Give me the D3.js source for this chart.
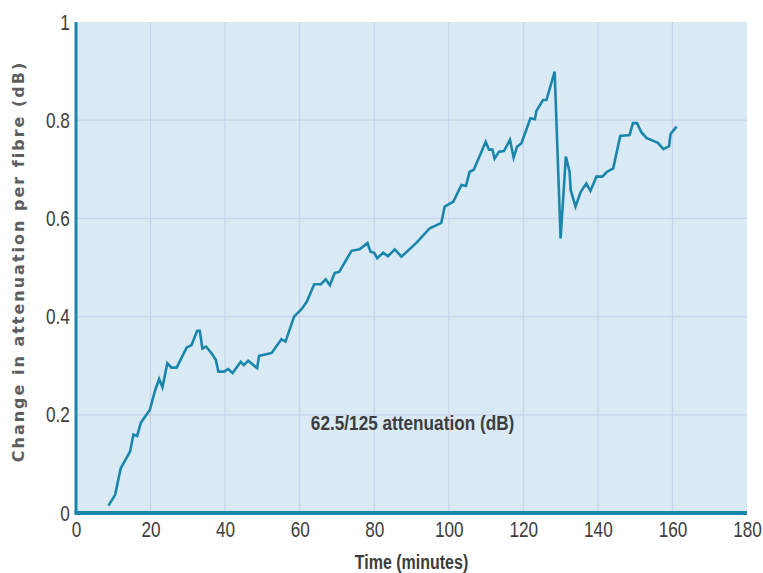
<!DOCTYPE html>
<html>
<head>
<meta charset="utf-8">
<script src="https://cdn.jsdelivr.net/npm/d3@7"></script>
<style>
  body { margin: 0; background: #fff; }
  .tick text { font-family: "Liberation Sans", "Roboto", sans-serif; }
</style>
</head>
<body>
<div id="chart"></div>
<script>
// Data: time in minutes, change in attenuation (dB)
const times = [8.7, 10.5, 12, 14.5, 15.4, 16.4, 17.4, 19.8, 21.2, 22.3, 23.2, 24.5, 25.6, 27, 29.7, 31, 32.5, 33.2, 33.9, 34.9,
  36.4, 37.5, 38.2, 39.7, 40.8, 42, 44.2, 45, 46.2, 48.6, 49.1, 52.5, 55.1, 56.2, 58.5, 60.5, 61.9, 63.9, 65.7, 67,
  68.1, 69.4, 70.6, 73.9, 76.1, 78.2, 79, 80, 80.8, 82.4, 83.7, 85.5, 87.3, 91.3, 94.9, 98, 98.9, 101.2, 103.4, 104.6,
  105.6, 106.7, 109.9, 110.8, 111.7, 112.3, 113.5, 114.8, 116.4, 117.4, 118.3, 119.5, 121.9, 123.1, 123.5, 125.3, 126.2, 128.4, 130, 131.4,
  132.4, 132.7, 134, 135.4, 136.9, 138, 139.6, 141.2, 142.3, 144.1, 146, 148.5, 149.4, 150.5, 151.7, 153, 156.1, 157.6, 159.1, 159.5, 161.1];
const attenuation = [0.015, 0.037, 0.091, 0.125, 0.160, 0.157, 0.184, 0.21, 0.249, 0.273, 0.256, 0.305, 0.296, 0.296, 0.337, 0.342, 0.371, 0.371, 0.335, 0.339,
  0.325, 0.312, 0.288, 0.288, 0.293, 0.285, 0.308, 0.301, 0.31, 0.295, 0.32, 0.326, 0.354, 0.349, 0.40, 0.415, 0.43, 0.466, 0.466, 0.476,
  0.464, 0.489, 0.491, 0.534, 0.537, 0.55, 0.532, 0.53, 0.519, 0.53, 0.523, 0.537, 0.522, 0.55, 0.58, 0.591, 0.624, 0.634, 0.668, 0.666,
  0.695, 0.699, 0.756, 0.74, 0.74, 0.722, 0.736, 0.737, 0.76, 0.724, 0.746, 0.753, 0.804, 0.802, 0.819, 0.841, 0.841, 0.899, 0.559, 0.726,
  0.695, 0.658, 0.624, 0.654, 0.671, 0.656, 0.685, 0.685, 0.694, 0.702, 0.768, 0.77, 0.794, 0.794, 0.775, 0.764, 0.754, 0.741, 0.747, 0.772, 0.787];
const xTicks = [0, 20, 40, 60, 80, 100, 120, 140, 160, 180];
const yTicks = [0, 0.2, 0.4, 0.6, 0.8, 1];
const seriesLabel = "62.5/125 attenuation (dB)";

const data = times.map((t, i) => ({ t: t, v: attenuation[i] }));

const margin = {top: 22, right: 16, bottom: 60, left: 76},
      width = 763 - margin.left - margin.right,
      height = 573 - margin.top - margin.bottom;

const svg = d3.select("#chart")
              .append("svg")
              .attr("width", 763)
              .attr("height", 573)
              .append("g")
              .attr("transform", `translate(${margin.left},${margin.top})`);

const x = d3.scaleLinear().domain([0, 180]).range([0, width]);
const y = d3.scaleLinear().domain([0, 1]).range([height, 0]);

const blue = "#1a86ab";
const textGrey = "#3d3d3d";

// plot background
svg.append("rect")
   .attr("width", width)
   .attr("height", height)
   .attr("fill", "#d9eaf5");

// grid lines
svg.append("g")
   .selectAll("line")
   .data(xTicks.slice(1, -1))
   .enter()
   .append("line")
   .attr("x1", d => x(d)).attr("x2", d => x(d))
   .attr("y1", 0).attr("y2", height)
   .attr("stroke", "#c9d2ea")
   .attr("stroke-width", 1.2);

svg.append("g")
   .selectAll("line")
   .data(yTicks.slice(1, -1))
   .enter()
   .append("line")
   .attr("y1", d => y(d)).attr("y2", d => y(d))
   .attr("x1", 0).attr("x2", width)
   .attr("stroke", "#c9d2ea")
   .attr("stroke-width", 1.2);

// X axis (condensed look via horizontal squeeze)
const xAxis = svg.append("g")
   .attr("transform", `translate(0,${height})`)
   .call(d3.axisBottom(x).tickValues(xTicks).tickSize(0).tickPadding(8).tickFormat(d3.format("d")));
xAxis.select(".domain").remove();
xAxis.selectAll("text")
   .attr("font-size", "22px")
   .attr("fill", textGrey)
   .attr("dy", "0.71em")
   .attr("transform", "scale(0.78,1)");

// Y axis
const yAxis = svg.append("g")
   .call(d3.axisLeft(y).tickValues(yTicks).tickSize(0).tickPadding(8).tickFormat(d => d === 0 || d === 1 ? d3.format("d")(d) : d3.format(".1f")(d)));
yAxis.select(".domain").remove();
yAxis.selectAll("text")
   .attr("font-size", "22px")
   .attr("fill", textGrey)
   .attr("transform", "scale(0.78,1)");

// axis lines
svg.append("line")
   .attr("x1", 0).attr("x2", 0)
   .attr("y1", 0).attr("y2", height)
   .attr("stroke", blue)
   .attr("stroke-width", 3);

svg.append("line")
   .attr("x1", -1.5).attr("x2", width)
   .attr("y1", height).attr("y2", height)
   .attr("stroke", blue)
   .attr("stroke-width", 4);

// the series line
const line = d3.line()
   .x(d => x(d.t))
   .y(d => y(d.v));

svg.append("path")
   .datum(data)
   .attr("fill", "none")
   .attr("stroke", blue)
   .attr("stroke-width", 2.6)
   .attr("d", line);

// series annotation
svg.append("text")
   .attr("transform", `translate(${x(63)},${y(0.17)}) scale(0.86,1)`)
   .attr("font-family", "'Liberation Sans', sans-serif")
   .attr("font-weight", "bold")
   .attr("font-size", "20px")
   .attr("fill", textGrey)
   .text(seriesLabel);

// x-axis label
svg.append("text")
   .attr("transform", `translate(${x(90)},${height + 56}) scale(0.8,1)`)
   .attr("text-anchor", "middle")
   .attr("font-family", "'Liberation Sans', sans-serif")
   .attr("font-weight", "bold")
   .attr("font-size", "20px")
   .attr("fill", textGrey)
   .text("Time (minutes)");

// y-axis label
svg.append("text")
   .attr("transform", "rotate(-90)")
   .attr("x", -(y(0.5) - 6))
   .attr("y", -margin.left + 24)
   .attr("text-anchor", "middle")
   .attr("font-family", "'DejaVu Sans', sans-serif")
   .attr("font-weight", "bold")
   .attr("font-size", "16px")
   .attr("letter-spacing", "2px")
   .attr("fill", "#5e5e5e")
   .text("Change in attenuation per fibre (dB)");
</script>
</body>
</html>
